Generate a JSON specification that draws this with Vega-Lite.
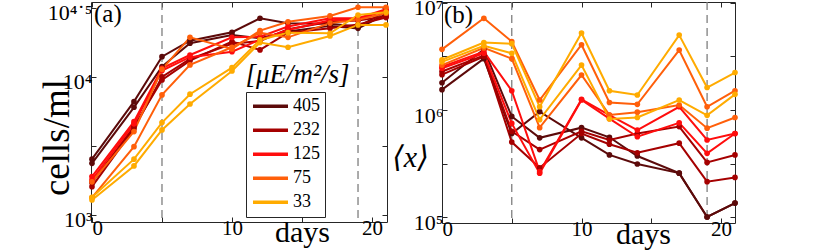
{
"$schema":"https://vega.github.io/schema/vega-lite/v6.json",
"background":"white",
"autosize":{"type":"none"},
"padding":{"left":91,"top":2,"right":739,"bottom":250},
"config":{
 "view":{"stroke":"#262626","strokeWidth":1},
 "font":"'Liberation Serif', 'DejaVu Serif', serif",
 "axis":{"grid":false,"domain":false,"tickColor":"#262626","tickSize":-5,"tickWidth":1,"labelColor":"#000","labelFont":"'Liberation Serif', 'DejaVu Serif', serif","labelFontSize":21,"titleFont":"'Liberation Serif', 'DejaVu Serif', serif","titleFontWeight":"normal","titleColor":"#000","titleFontSize":30,"labelPadding":4},
 "legend":{"labelFont":"'Liberation Serif', 'DejaVu Serif', serif"}
},
"datasets":{
"cells":[
{"s":"405a","light":"405","day":0,"v":2535},{"s":"405a","light":"405","day":3,"v":6622},{"s":"405a","light":"405","day":5,"v":14030},{"s":"405a","light":"405","day":7,"v":18320},{"s":"405a","light":"405","day":10,"v":21090},{"s":"405a","light":"405","day":12,"v":26610},{"s":"405a","light":"405","day":14,"v":24490},{"s":"405a","light":"405","day":17,"v":24270},{"s":"405a","light":"405","day":19,"v":23170},{"s":"405a","light":"405","day":21,"v":29720},
{"s":"405b","light":"405","day":0,"v":2366},{"s":"405b","light":"405","day":3,"v":6026},{"s":"405b","light":"405","day":5,"v":11890},{"s":"405b","light":"405","day":7,"v":17540},{"s":"405b","light":"405","day":10,"v":20140},{"s":"405b","light":"405","day":12,"v":19050},{"s":"405b","light":"405","day":14,"v":21380},{"s":"405b","light":"405","day":17,"v":23440},{"s":"405b","light":"405","day":19,"v":22490},{"s":"405b","light":"405","day":21,"v":28510},
{"s":"232a","light":"232","day":0,"v":1714},{"s":"232a","light":"232","day":3,"v":4365},{"s":"232a","light":"232","day":5,"v":9506},{"s":"232a","light":"232","day":7,"v":13120},{"s":"232a","light":"232","day":10,"v":18030},{"s":"232a","light":"232","day":12,"v":15700},{"s":"232a","light":"232","day":14,"v":20940},{"s":"232a","light":"232","day":17,"v":22490},{"s":"232a","light":"232","day":19,"v":23990},{"s":"232a","light":"232","day":21,"v":26920},
{"s":"232b","light":"232","day":0,"v":1603},{"s":"232b","light":"232","day":3,"v":4217},{"s":"232b","light":"232","day":5,"v":10000},{"s":"232b","light":"232","day":7,"v":13490},{"s":"232b","light":"232","day":10,"v":17380},{"s":"232b","light":"232","day":12,"v":18200},{"s":"232b","light":"232","day":14,"v":22130},{"s":"232b","light":"232","day":17,"v":25120},{"s":"232b","light":"232","day":19,"v":25590},{"s":"232b","light":"232","day":21,"v":27540},
{"s":"125a","light":"125","day":0,"v":1897},{"s":"125a","light":"125","day":3,"v":4742},{"s":"125a","light":"125","day":5,"v":11560},{"s":"125a","light":"125","day":7,"v":14420},{"s":"125a","light":"125","day":10,"v":19360},{"s":"125a","light":"125","day":12,"v":19590},{"s":"125a","light":"125","day":14,"v":23170},{"s":"125a","light":"125","day":17,"v":26610},{"s":"125a","light":"125","day":19,"v":26610},{"s":"125a","light":"125","day":21,"v":30900},
{"s":"125b","light":"125","day":0,"v":1795},{"s":"125b","light":"125","day":3,"v":4571},{"s":"125b","light":"125","day":5,"v":11120},{"s":"125b","light":"125","day":7,"v":13900},{"s":"125b","light":"125","day":10,"v":15240},{"s":"125b","light":"125","day":12,"v":18620},{"s":"125b","light":"125","day":14,"v":21880},{"s":"125b","light":"125","day":17,"v":25700},{"s":"125b","light":"125","day":19,"v":26300},{"s":"125b","light":"125","day":21,"v":30200},
{"s":"75a","light":"75","day":0,"v":1738},{"s":"75a","light":"75","day":3,"v":4018},{"s":"75a","light":"75","day":5,"v":11350},{"s":"75a","light":"75","day":7,"v":19360},{"s":"75a","light":"75","day":10,"v":15960},{"s":"75a","light":"75","day":12,"v":21680},{"s":"75a","light":"75","day":14,"v":25120},{"s":"75a","light":"75","day":17,"v":27670},{"s":"75a","light":"75","day":19,"v":31990},{"s":"75a","light":"75","day":21,"v":31990},
{"s":"75b","light":"75","day":0,"v":1334},{"s":"75b","light":"75","day":3,"v":3126},{"s":"75b","light":"75","day":5,"v":7413},{"s":"75b","light":"75","day":7,"v":12220},{"s":"75b","light":"75","day":10,"v":16410},{"s":"75b","light":"75","day":12,"v":20890},{"s":"75b","light":"75","day":14,"v":19360},{"s":"75b","light":"75","day":17,"v":24550},{"s":"75b","light":"75","day":19,"v":26000},{"s":"75b","light":"75","day":21,"v":28970},
{"s":"33a","light":"33","day":0,"v":1343},{"s":"33a","light":"33","day":3,"v":2535},{"s":"33a","light":"33","day":5,"v":4667},{"s":"33a","light":"33","day":7,"v":7499},{"s":"33a","light":"33","day":10,"v":11670},{"s":"33a","light":"33","day":12,"v":18540},{"s":"33a","light":"33","day":14,"v":20940},{"s":"33a","light":"33","day":17,"v":20700},{"s":"33a","light":"33","day":19,"v":28120},{"s":"33a","light":"33","day":21,"v":29380},
{"s":"33b","light":"33","day":0,"v":1285},{"s":"33b","light":"33","day":3,"v":2265},{"s":"33b","light":"33","day":5,"v":4130},{"s":"33b","light":"33","day":7,"v":6368},{"s":"33b","light":"33","day":10,"v":11040},{"s":"33b","light":"33","day":12,"v":17740},{"s":"33b","light":"33","day":14,"v":16410},{"s":"33b","light":"33","day":17,"v":19820},{"s":"33b","light":"33","day":19,"v":23820},{"s":"33b","light":"33","day":21,"v":23820}
],
"xmean":[
{"s":"405a","light":"405","day":0,"v":1799000},{"s":"405a","light":"405","day":3,"v":3690000},{"s":"405a","light":"405","day":5,"v":871000},{"s":"405a","light":"405","day":7,"v":549500},{"s":"405a","light":"405","day":10,"v":683900},{"s":"405a","light":"405","day":12,"v":555900},{"s":"405a","light":"405","day":14,"v":371500},{"s":"405a","light":"405","day":17,"v":257000},{"s":"405a","light":"405","day":19,"v":100000},{"s":"405a","light":"405","day":21,"v":134900},
{"s":"405b","light":"405","day":0,"v":1549000},{"s":"405b","light":"405","day":3,"v":3020000},{"s":"405b","light":"405","day":5,"v":602600},{"s":"405b","light":"405","day":7,"v":966100},{"s":"405b","light":"405","day":10,"v":549500},{"s":"405b","light":"405","day":12,"v":380200},{"s":"405b","light":"405","day":14,"v":312600},{"s":"405b","light":"405","day":17,"v":257000},{"s":"405b","light":"405","day":19,"v":100000},{"s":"405b","light":"405","day":21,"v":134900},
{"s":"232a","light":"232","day":0,"v":2291000},{"s":"232a","light":"232","day":3,"v":3236000},{"s":"232a","light":"232","day":5,"v":631000},{"s":"232a","light":"232","day":7,"v":426600},{"s":"232a","light":"232","day":10,"v":631000},{"s":"232a","light":"232","day":12,"v":524800},{"s":"232a","light":"232","day":14,"v":602600},{"s":"232a","light":"232","day":17,"v":699800},{"s":"232a","light":"232","day":19,"v":323600},{"s":"232a","light":"232","day":21,"v":380200},
{"s":"232b","light":"232","day":0,"v":2138000},{"s":"232b","light":"232","day":3,"v":3162000},{"s":"232b","light":"232","day":5,"v":501200},{"s":"232b","light":"232","day":7,"v":288400},{"s":"232b","light":"232","day":10,"v":602600},{"s":"232b","light":"232","day":12,"v":478600},{"s":"232b","light":"232","day":14,"v":398100},{"s":"232b","light":"232","day":17,"v":489800},{"s":"232b","light":"232","day":19,"v":213800},{"s":"232b","light":"232","day":21,"v":234400},
{"s":"125a","light":"125","day":0,"v":2541000},{"s":"125a","light":"125","day":3,"v":3508000},{"s":"125a","light":"125","day":5,"v":1514000},{"s":"125a","light":"125","day":7,"v":265500},{"s":"125a","light":"125","day":10,"v":1259000},{"s":"125a","light":"125","day":12,"v":897400},{"s":"125a","light":"125","day":14,"v":650100},{"s":"125a","light":"125","day":17,"v":1072000},{"s":"125a","light":"125","day":19,"v":524800},{"s":"125a","light":"125","day":21,"v":602600},
{"s":"125b","light":"125","day":0,"v":2455000},{"s":"125b","light":"125","day":3,"v":3388000},{"s":"125b","light":"125","day":5,"v":749900},{"s":"125b","light":"125","day":7,"v":257000},{"s":"125b","light":"125","day":10,"v":1242000},{"s":"125b","light":"125","day":12,"v":831800},{"s":"125b","light":"125","day":14,"v":562300},{"s":"125b","light":"125","day":17,"v":758600},{"s":"125b","light":"125","day":19,"v":393600},{"s":"125b","light":"125","day":21,"v":602600},
{"s":"75a","light":"75","day":0,"v":3690000},{"s":"75a","light":"75","day":3,"v":7194000},{"s":"75a","light":"75","day":5,"v":4365000},{"s":"75a","light":"75","day":7,"v":1239000},{"s":"75a","light":"75","day":10,"v":4074000},{"s":"75a","light":"75","day":12,"v":1175000},{"s":"75a","light":"75","day":14,"v":1130000},{"s":"75a","light":"75","day":17,"v":3631000},{"s":"75a","light":"75","day":19,"v":1072000},{"s":"75a","light":"75","day":21,"v":1514000},
{"s":"75b","light":"75","day":0,"v":2630000},{"s":"75b","light":"75","day":3,"v":3802000},{"s":"75b","light":"75","day":5,"v":3020000},{"s":"75b","light":"75","day":7,"v":683900},{"s":"75b","light":"75","day":10,"v":2123000},{"s":"75b","light":"75","day":12,"v":897400},{"s":"75b","light":"75","day":14,"v":955000},{"s":"75b","light":"75","day":17,"v":1114000},{"s":"75b","light":"75","day":19,"v":676100},{"s":"75b","light":"75","day":21,"v":851100},
{"s":"33a","light":"33","day":0,"v":2951000},{"s":"33a","light":"33","day":3,"v":4266000},{"s":"33a","light":"33","day":5,"v":4169000},{"s":"33a","light":"33","day":7,"v":1072000},{"s":"33a","light":"33","day":10,"v":5248000},{"s":"33a","light":"33","day":12,"v":1514000},{"s":"33a","light":"33","day":14,"v":1380000},{"s":"33a","light":"33","day":17,"v":5012000},{"s":"33a","light":"33","day":19,"v":1622000},{"s":"33a","light":"33","day":21,"v":2239000},
{"s":"33b","light":"33","day":0,"v":2818000},{"s":"33b","light":"33","day":3,"v":3981000},{"s":"33b","light":"33","day":5,"v":3388000},{"s":"33b","light":"33","day":7,"v":812800},{"s":"33b","light":"33","day":10,"v":2630000},{"s":"33b","light":"33","day":12,"v":824100},{"s":"33b","light":"33","day":14,"v":851100},{"s":"33b","light":"33","day":17,"v":1239000},{"s":"33b","light":"33","day":19,"v":891300},{"s":"33b","light":"33","day":21,"v":1400000}
]
},
"spacing":55,
"bounds":"flush",
"resolve":{"scale":{"color":"independent"},"legend":{"color":"independent"}},
"hconcat":[
{
 "width":296,"height":220,
 "resolve":{"axis":{"x":"independent","y":"independent"}},
 "layer":[
  {"data":{"values":[{"day":5},{"day":19}]},
   "mark":{"type":"rule","color":"#7f7f7f","strokeDash":[8,5],"strokeWidth":1.3},
   "encoding":{"x":{"field":"day","type":"quantitative","scale":{"domain":[-0.07,21.07],"nice":false,"zero":false},"axis":null}}},
  {"data":{"name":"cells"},
   "mark":{"type":"line","strokeWidth":2},
   "encoding":{
    "x":{"field":"day","type":"quantitative","scale":{"domain":[-0.07,21.07],"nice":false,"zero":false},
         "axis":{"orient":"bottom","values":[0,5,10,15,20],"labelExpr":"datum.value % 10 == 0 ? datum.label : ''","title":"days","titleX":211,"titleY":19,"titleBaseline":"alphabetic","titleAlign":"center","labelPadding":0}},
    "y":{"field":"v","type":"quantitative","scale":{"type":"log","domain":[889,34914],"nice":false},
         "axis":{"orient":"left","values":[1000,3162.2777,10000,31622.777],"labelExpr":"datum.value == 1000 ? '10³' : datum.value == 10000 ? '10⁴' : datum.value > 30000 ? '10⁴˙⁵' : ''","labelFontSize":22,"labelOffset":5,"title":"cells/ml","titleFontSize":37,"titleAngle":-90,"titleX":-23,"titleY":135,"titleBaseline":"alphabetic","titleAlign":"center"}},
    "color":{"field":"light","type":"nominal","scale":{"domain":["405","232","125","75","33"],"range":["#5c0a0a","#a50000","#ff0d0d","#ff5f0a","#ffab00"]},
         "legend":{"orient":"none","legendX":155,"legendY":90,"title":null,"symbolType":"stroke","symbolStrokeWidth":3.5,"symbolSize":1225,"clipHeight":18.5,"labelFontSize":18,"labelColor":"#000","strokeColor":"#262626","fillColor":"white","padding":5,"rowPadding":5,"labelOffset":3}},
    "detail":{"field":"s"}}},
  {"data":{"name":"cells"},
   "mark":{"type":"point","filled":true,"size":32,"opacity":1},
   "encoding":{
    "x":{"field":"day","type":"quantitative","scale":{"domain":[-0.07,21.07],"nice":false,"zero":false},"axis":{"orient":"top","values":[0,5,10,15,20],"labels":false,"title":null}},
    "y":{"field":"v","type":"quantitative","scale":{"type":"log","domain":[889,34914],"nice":false},"axis":{"orient":"right","values":[1000,3162.2777,10000,31622.777],"labels":false,"title":null}},
    "color":{"field":"light","type":"nominal","scale":{"domain":["405","232","125","75","33"],"range":["#5c0a0a","#a50000","#ff0d0d","#ff5f0a","#ffab00"]},
         "legend":{"orient":"none","legendX":155,"legendY":90,"title":null,"symbolType":"stroke","symbolStrokeWidth":3.5,"symbolSize":1225,"clipHeight":18.5,"labelFontSize":18,"labelColor":"#000","strokeColor":"#262626","fillColor":"white","padding":5,"rowPadding":5,"labelOffset":3}},
    "detail":{"field":"s"}}},
  {"data":{"values":[{}]},
   "mark":{"type":"text","text":"(a)","fontSize":25,"align":"left","baseline":"middle","dx":3,"color":"#000"},
   "encoding":{"x":{"datum":-0.07,"type":"quantitative","axis":null},"y":{"datum":28620,"type":"quantitative","axis":null}}},
  {"data":{"values":[{}]},
   "mark":{"type":"text","text":"[μE/m²/s]","fontStyle":"italic","fontSize":27,"align":"center","baseline":"middle","color":"#000"},
   "encoding":{"x":{"datum":14.68,"type":"quantitative","axis":null},"y":{"datum":10340,"type":"quantitative","axis":null}}}
 ]
},
{
 "width":293,"height":221,
 "resolve":{"axis":{"x":"independent","y":"independent"}},
 "layer":[
  {"data":{"values":[{"day":5},{"day":19}]},
   "mark":{"type":"rule","color":"#7f7f7f","strokeDash":[8,5],"strokeWidth":1.3},
   "encoding":{"x":{"field":"day","type":"quantitative","scale":{"domain":[0,21],"nice":false,"zero":false},"axis":null}}},
  {"data":{"name":"xmean"},
   "mark":{"type":"line","strokeWidth":2},
   "encoding":{
    "x":{"field":"day","type":"quantitative","scale":{"domain":[0,21],"nice":false,"zero":false},
         "axis":{"orient":"bottom","values":[0,5,10,15,20],"labelExpr":"datum.value % 10 == 0 ? datum.label : ''","labelFlush":true,"title":"days","titleX":201,"titleY":20,"titleBaseline":"alphabetic","titleAlign":"center","labelPadding":0}},
    "y":{"field":"v","type":"quantitative","scale":{"type":"log","domain":[87900,10217000],"nice":false},
         "axis":{"orient":"left","values":[100000,316227.77,1000000,3162277.7,10000000],"labelExpr":"datum.value == 100000 ? '10⁵' : datum.value == 1000000 ? '10⁶' : datum.value > 9000000 ? '10⁷' : ''","labelFontSize":22,"labelOffset":5,"title":"⟨x⟩","titleFontSize":30,"titleFontStyle":"italic","titleAngle":0,"titleX":-32,"titleY":155,"titleBaseline":"middle","titleAlign":"center"}},
    "color":{"field":"light","type":"nominal","scale":{"domain":["405","232","125","75","33"],"range":["#5c0a0a","#a50000","#ff0d0d","#ff5f0a","#ffab00"]},"legend":null},
    "detail":{"field":"s"}}},
  {"data":{"name":"xmean"},
   "mark":{"type":"point","filled":true,"size":32,"opacity":1},
   "encoding":{
    "x":{"field":"day","type":"quantitative","scale":{"domain":[0,21],"nice":false,"zero":false},"axis":{"orient":"top","values":[0,5,10,15,20],"labels":false,"title":null}},
    "y":{"field":"v","type":"quantitative","scale":{"type":"log","domain":[87900,10217000],"nice":false},"axis":{"orient":"right","values":[100000,316227.77,1000000,3162277.7,10000000],"labels":false,"title":null}},
    "color":{"field":"light","type":"nominal","scale":{"domain":["405","232","125","75","33"],"range":["#5c0a0a","#a50000","#ff0d0d","#ff5f0a","#ffab00"]},"legend":null},
    "detail":{"field":"s"}}},
  {"data":{"values":[{}]},
   "mark":{"type":"text","text":"(b)","fontSize":25,"align":"left","baseline":"middle","dx":2,"color":"#000"},
   "encoding":{"x":{"datum":0,"type":"quantitative","axis":null},"y":{"datum":7730000,"type":"quantitative","axis":null}}}
 ]
}
]
}
